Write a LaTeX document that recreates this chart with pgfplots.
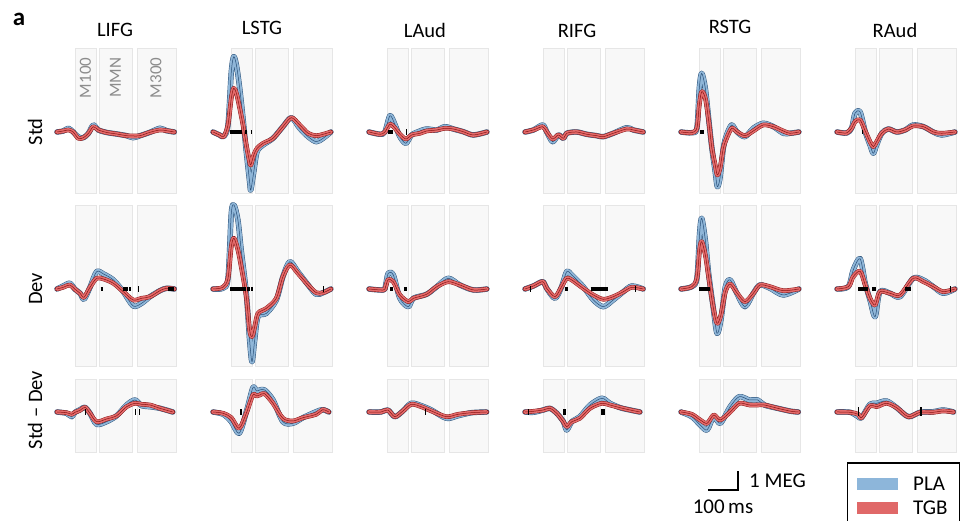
\documentclass[border=0pt]{standalone}
\usepackage{pgfplots}
\pgfplotsset{compat=1.18}
\usepackage{fontspec}
\setmainfont{Carlito}
\definecolor{blueL}{RGB}{143,182,216}
\definecolor{blueD}{RGB}{40,78,118}
\definecolor{redL}{RGB}{228,108,108}
\definecolor{redD}{RGB}{135,20,20}
\definecolor{boxF}{RGB}{248,248,248}
\definecolor{boxE}{RGB}{230,230,230}
\definecolor{labgray}{RGB}{140,140,140}
\definecolor{legB}{RGB}{141,182,218}
\definecolor{legR}{RGB}{224,104,104}
\pgfplotsset{
  panel/.style={x=0.3pt,y=1pt,xmin=-100,xmax=300,hide axis,clip=false,anchor=south west},
  rowA/.style={ymin=-61,ymax=84},
  rowB/.style={ymin=-77,ymax=84},
  rowC/.style={ymin=-40,ymax=33},
  tr/.style={smooth,tension=0.5,line join=round,line cap=round,forget plot,mark=none},
}
\newcommand{\pbox}[4]{\addplot[fill=boxF,draw=boxE,line width=0.9pt,forget plot,mark=none] coordinates {(#1,#3) (#2,#3) (#2,#4) (#1,#4)} -- cycle;}
\newcommand{\boxes}[2]{\pbox{-37}{30}{#1}{#2}\pbox{43}{150}{#1}{#2}\pbox{167}{297}{#1}{#2}}
\newcommand{\PLA}[1]{%
  \addplot[tr,blueD,line width=5.4pt] coordinates {#1};
  \addplot[tr,blueL,line width=4.5pt] coordinates {#1};
  \addplot[tr,blueD,line width=0.5pt] coordinates {#1};}
\newcommand{\TGB}[1]{%
  \addplot[tr,redD,line width=4.6pt] coordinates {#1};
  \addplot[tr,redL,line width=3.7pt] coordinates {#1};
  \addplot[tr,redD,line width=0.5pt] coordinates {#1};}
\newcommand{\sig}[2]{\addplot[black,line width=3.5pt,forget plot,mark=none] coordinates {(#1,0) (#2,0)};}
\newcommand{\stick}[1]{\addplot[black,line width=1.2pt,forget plot,mark=none] coordinates {(#1,-3) (#1,3)};}
\begin{document}
\begin{tikzpicture}
\useasboundingbox (0pt,0pt) rectangle (966pt,521pt);
% ================= Row 1: Std =================
\begin{axis}[panel,rowA,at={(57pt,328pt)}]
\boxes{-61}{84}
\PLA{(-100,0) (-79,1) (-62,3.7) (-46,0) (-29,-5) (-12,-5.7) (5,-1.3) (21,7) (38,2) (66,-0.5) (99,-2) (132,-3.7) (154,-5.7) (177,-3.7) (210,-0.3) (243,3.7) (265,1.3) (291,0)}
\TGB{(-100,0) (-79,1) (-62,2) (-46,0) (-29,-6.3) (-12,-5.7) (5,-1.3) (21,5.3) (38,2) (66,-0.5) (99,-2) (132,-3.7) (154,-4) (177,-3.7) (210,-0.3) (243,2) (265,1.3) (291,0)}
\end{axis}
\begin{axis}[panel,rowA,at={(213pt,328pt)}]
\boxes{-61}{84}
\PLA{(-100,0) (-78,-3) (-64,-4.5) (-50,7) (-39,60) (-31,75.3) (-22,67) (-11,43.7) (0,13.7) (11,-19.7) (22,-49.7) (26,-58) (36,-39.7) (47,-19.7) (67,-13) (100,-6.3) (133,5.3) (161,14.3) (189,3.7) (217,-4.7) (244,-9.7) (267,-6.3) (293,0)}
\TGB{(-100,0) (-78,-3) (-64,-4.5) (-50,7) (-39,33.7) (-31,43.7) (-22,38.7) (-11,23.7) (0,7) (11,-13) (22,-29.7) (26,-33) (36,-23) (47,-16.3) (67,-11.3) (100,-6.3) (133,5.3) (161,14.3) (189,7) (217,-1.3) (244,-3.7) (267,-2.3) (293,0)}
\sig{-42}{-4}\sig{8}{12}\sig{25}{29}
\end{axis}
\begin{axis}[panel,rowA,at={(369pt,328pt)}]
\boxes{-61}{84}
\PLA{(-100,0) (-63,-2.3) (-47,0) (-30,16.3) (-13,7) (3,-4.7) (23,-11.3) (42,-3) (70,1) (92,3) (126,2) (153,5.3) (181,3) (214,0.3) (248,-3) (293,0)}
\TGB{(-100,0) (-63,-2.3) (-47,0) (-30,7.7) (-13,3.7) (3,-2.3) (23,-7) (42,-3) (70,-1.3) (92,1) (126,2) (153,3.7) (181,3) (214,0.3) (248,-3) (293,0)}
\sig{-36}{-19}\stick{26}
\end{axis}
\begin{axis}[panel,rowA,at={(525pt,328pt)}]
\boxes{-61}{84}
\PLA{(-100,0) (-72,2) (-41,7) (-28,0.3) (-8,-9.7) (11,-3) (28,-6.3) (39,-1.3) (72,0) (106,-2.3) (139,-3.7) (161,-4.7) (194,-1.3) (239,4.3) (261,2) (294,0)}
\TGB{(-100,0) (-72,2) (-41,5.3) (-28,0.3) (-8,-7) (11,-3) (28,-6.3) (39,-1.3) (72,0) (106,-2.3) (139,-3.7) (161,-4.7) (194,-1.3) (239,3) (261,2) (294,0)}
\end{axis}
\begin{axis}[panel,rowA,at={(681pt,328pt)}]
\boxes{-61}{84}
\PLA{(-100,0) (-64,-0.7) (-47,4) (-39,43.7) (-31,58.7) (-19,43.7) (-8,13.7) (3,-16.3) (14,-39.7) (21,-54.7) (30,-46) (41,-16.3) (52,-3) (69,7) (86,0.3) (113,-4.7) (141,3.7) (174,8.7) (208,5.3) (241,-1.3) (263,-1.3) (293,0)}
\TGB{(-100,0) (-64,-0.7) (-47,4) (-39,27) (-31,40.3) (-19,33.7) (-8,12) (3,-16.3) (14,-33) (21,-43) (30,-36.3) (41,-16.3) (52,-6.3) (69,3.7) (86,0.3) (113,-3.7) (141,1) (174,7) (208,5.3) (241,1) (263,-1.3) (293,0)}
\sig{-36}{-31}\sig{-29}{-24}
\end{axis}
\begin{axis}[panel,rowA,at={(837pt,328pt)}]
\boxes{-61}{84}
\PLA{(-100,0) (-68,-1) (-51,4) (-40,18.7) (-23,20) (-6,0.3) (10,-13) (21,-21.3) (32,-13) (49,-1.3) (71,3) (99,0) (127,2) (154,7) (188,5.3) (221,0) (249,-3) (293,0)}
\TGB{(-100,0) (-68,-1) (-51,4) (-40,10.3) (-23,12) (-6,1) (10,-9.7) (21,-14.7) (32,-9.7) (49,-1.3) (71,3) (99,0) (127,2) (154,6) (188,5.3) (221,0) (249,-1.3) (293,0)}
\sig{-18}{-14}
\end{axis}
% ================= Row 2: Dev =================
\begin{axis}[panel,rowB,at={(57pt,155pt)}]
\boxes{-77}{84}
\PLA{(-100,0) (-79,3) (-57,5.7) (-40,-0.3) (-23,-4.3) (-10,-10.3) (10,1.7) (32,17.3) (55,15) (88,9) (121,-2.7) (154,-17) (182,-14.3) (210,-7.7) (243,-1.7) (265,0.7) (291,0)}
\TGB{(-100,0) (-79,1.7) (-57,4) (-40,-0.3) (-23,-4.3) (-10,-8.3) (10,1.7) (32,10.7) (55,10) (88,5.7) (121,-2.7) (154,-11) (182,-9.3) (210,-7.7) (243,-1.7) (265,0.7) (291,0)}
\sig{45}{54}\sig{121}{136}\sig{141}{145}\stick{171}\sig{271}{290}
\end{axis}
\begin{axis}[panel,rowB,at={(213pt,155pt)}]
\boxes{-77}{84}
\PLA{(-100,0) (-67,0.7) (-50,10.7) (-39,75.7) (-30,84) (-17,69) (-6,39) (11,-4.3) (22,-51) (30,-72.7) (39,-51) (50,-27.7) (78,-24.3) (111,-11) (133,12.3) (156,27.3) (183,17.3) (217,4) (244,-5.3) (267,-3.7) (293,0)}
\TGB{(-100,0) (-67,1.7) (-50,10.7) (-39,42.3) (-30,50.7) (-17,39) (-6,22.3) (11,-7.7) (22,-41) (30,-47.7) (39,-37.7) (50,-24.3) (78,-19.3) (111,-9.3) (133,12.3) (156,24) (183,15.7) (217,4) (244,-3.7) (267,-3.7) (293,0)}
\sig{-44}{10}\sig{14}{22}\sig{26}{34}\stick{269}
\end{axis}
\begin{axis}[panel,rowB,at={(369pt,155pt)}]
\boxes{-77}{84}
\PLA{(-100,0) (-52,-1) (-45,3) (-36,15.7) (-19,14) (3,-9.3) (31,-17.7) (48,-9.3) (92,-5.3) (126,2.3) (164,10.7) (203,4) (248,-1) (293,0)}
\TGB{(-100,0) (-52,-1) (-45,2) (-36,9.3) (-19,7.3) (3,-6) (31,-12.7) (48,-9.3) (92,-5.3) (126,2.3) (164,7.3) (203,4) (248,-1) (293,0)}
\sig{-30}{-19}\sig{16}{27}
\end{axis}
\begin{axis}[panel,rowB,at={(525pt,155pt)}]
\boxes{-77}{84}
\PLA{(-100,0) (-72,3) (-41,7.3) (-28,0.7) (0,-9.3) (22,2.3) (39,17.3) (56,14) (94,2.3) (128,-11) (161,-17.7) (194,-11) (228,-2.7) (256,3) (294,0)}
\TGB{(-100,0) (-72,3) (-41,7.3) (-28,0.7) (0,-7.7) (22,2.3) (39,10.7) (56,9) (94,0.7) (128,-6) (161,-10.3) (194,-7.7) (228,-2.7) (256,1.7) (294,0)}
\stick{-83}\sig{33}{44}\sig{119}{178}\stick{267}
\end{axis}
\begin{axis}[panel,rowB,at={(681pt,155pt)}]
\boxes{-77}{84}
\PLA{(-100,0) (-64,2.3) (-47,10.7) (-38,55.7) (-31,70.7) (-19,49) (-8,15.7) (7,-17.7) (20,-44.3) (33,-31) (48,2.3) (64,9) (86,-4.3) (113,-17.7) (141,-4.3) (163,4) (197,0.7) (241,-6) (293,0)}
\TGB{(-100,0) (-64,2.3) (-47,10.7) (-38,39) (-31,47.3) (-19,34) (-8,12.3) (7,-17.7) (20,-34.3) (33,-26) (48,-2.7) (64,5) (86,-3.7) (113,-12.7) (141,-4.3) (163,4) (197,2.3) (241,-1.7) (293,0)}
\sig{-40}{-3}
\end{axis}
\begin{axis}[panel,rowB,at={(837pt,155pt)}]
\boxes{-77}{84}
\PLA{(-100,0) (-62,2.3) (-46,19) (-23,30.3) (-6,5.7) (10,-11) (27,-27.7) (43,-2.7) (77,-4.3) (110,-7.7) (154,10.7) (188,9) (221,2.3) (254,-4.3) (293,0)}
\TGB{(-100,0) (-62,2.3) (-46,12.3) (-23,17.7) (-6,4) (10,-9.3) (27,-16) (43,-2.7) (77,-4.3) (110,-6) (154,10.7) (188,7.3) (221,2.3) (254,-2.7) (293,0)}
\sig{-29}{4}\sig{16}{30}\sig{127}{146}\stick{277}
\end{axis}
% ================= Row 3: Std - Dev =================
\begin{axis}[panel,rowC,at={(57pt,69pt)}]
\boxes{-40}{33}
\PLA{(-100,0) (-68,-1.3) (-51,-4.7) (-40,-0.3) (-23,2.3) (-7,4.7) (10,-1.3) (32,-12.3) (65,-9.7) (99,-3.7) (132,7) (160,12) (182,6.3) (210,5.3) (243,3.7) (286,0)}
\TGB{(-100,0) (-68,-0.7) (-51,-2.3) (-40,-0.3) (-23,1.7) (-7,4.7) (10,-1.3) (32,-9.7) (65,-7) (99,-3.7) (132,5.3) (160,8.7) (182,7.7) (210,7) (243,3.7) (286,0)}
\stick{-5}\stick{162}\stick{175}
\end{axis}
\begin{axis}[panel,rowC,at={(213pt,69pt)}]
\boxes{-40}{33}
\PLA{(-100,0) (-66,-2.3) (-39,-9.7) (-13,-21.3) (11,0) (33,24.3) (45,21) (56,22) (72,22) (100,12) (133,-9.7) (166,-11.3) (200,-5.7) (244,0.3) (266,2.3) (286,0)}
\TGB{(-100,0) (-66,-1.3) (-39,-5.7) (-13,-16.3) (11,-1.3) (33,17) (45,16) (56,17) (72,18.3) (100,8.7) (133,-6.3) (166,-9) (200,-5.7) (244,-2.3) (266,2.3) (286,0)}
\stick{-7}
\end{axis}
\begin{axis}[panel,rowC,at={(369pt,69pt)}]
\boxes{-40}{33}
\PLA{(-100,0) (-60,0) (-37,2) (-14,-4.7) (13,1) (41,8.7) (74,6.3) (108,2) (158,-6.3) (197,-3.7) (242,-0.7) (292,0)}
\TGB{(-100,0) (-60,0) (-37,2) (-14,-4.7) (13,1) (41,7.7) (74,5.3) (108,1) (158,-4.7) (197,-2.3) (242,-0.7) (292,0)}
\stick{88}
\end{axis}
\begin{axis}[panel,rowC,at={(525pt,69pt)}]
\boxes{-40}{33}
\PLA{(-100,0) (-72,-0.3) (-39,2) (-17,3.7) (6,-1.3) (28,-9.7) (39,-18) (56,-9.7) (83,-4.7) (117,7) (156,13.7) (183,8.7) (217,4.3) (250,2) (283,0)}
\TGB{(-100,0) (-72,0.7) (-39,2) (-17,3.7) (6,-1.3) (28,-9.7) (39,-14.7) (56,-9.7) (83,-6.3) (117,3.7) (156,8.7) (183,7) (217,4.3) (250,2) (283,0)}
\stick{-89}\stick{30}\stick{34}\stick{155}\stick{160}\stick{165}
\end{axis}
\begin{axis}[panel,rowC,at={(681pt,69pt)}]
\boxes{-40}{33}
\PLA{(-100,0) (-64,-4.7) (-36,-13) (-13,-18) (9,-4.7) (31,-11.3) (64,5.3) (94,15.3) (128,12) (156,12) (178,7) (222,3.7) (267,0.7) (291,0)}
\TGB{(-100,0) (-64,-2.3) (-36,-8) (-13,-11.3) (9,-3) (31,-8) (64,0) (94,8.7) (128,7) (156,7) (178,7) (222,3.7) (267,0.7) (291,0)}
\end{axis}
\begin{axis}[panel,rowC,at={(837pt,69pt)}]
\boxes{-40}{33}
\PLA{(-100,0) (-56,-0.3) (-29,-4.7) (-18,-5.7) (10,7.7) (32,8.7) (65,11) (99,4.3) (138,-4.7) (177,-0.3) (221,0.3) (254,2) (288,0)}
\TGB{(-100,0) (-56,-0.3) (-29,-2.3) (-18,-5.7) (10,6.3) (32,5.3) (65,8.7) (99,4.3) (138,-4.7) (177,-0.3) (221,-0.3) (254,1) (288,0)}
\addplot[black,line width=1.5pt,forget plot,mark=none] coordinates {(-29,-4) (-29,5)};
\addplot[black,line width=1.5pt,forget plot,mark=none] coordinates {(180,-4) (180,5)};
\end{axis}
% ================= scale bar =================
\begin{axis}[x=0.3pt,y=1pt,xmin=0,xmax=100,ymin=0,ymax=19,hide axis,clip=false,anchor=south west,at={(708pt,31pt)}]
\addplot[black,line width=2.5pt,mark=none,line join=miter] coordinates {(0,0) (100,0) (100,19)};
\end{axis}
% ================= text =================
\node[anchor=base,font=\fontsize{25pt}{30pt}\selectfont\bfseries,inner sep=0] at (19pt,495pt) {a};
\foreach \xx/\yy/\tt in {115/484/LIFG,262/486/LSTG,425/483/LAud,577/483/RIFG,730/487/RSTG,895/483/RAud}
  \node[anchor=base,font=\fontsize{20.5pt}{24pt}\selectfont,inner sep=0] at (\xx pt,\yy pt) {\tt};
\node[rotate=90,anchor=base,font=\fontsize{20.5pt}{24pt}\selectfont,inner sep=0] at (42pt,389pt) {Std};
\node[rotate=90,anchor=base,font=\fontsize{20.5pt}{24pt}\selectfont,inner sep=0] at (42pt,232pt) {Dev};
\node[rotate=90,anchor=base,font=\fontsize{20.5pt}{24pt}\selectfont,inner sep=0] at (42pt,111pt) {Std – Dev};
\foreach \xx/\tt in {85.5/M100,115.5/MMN,156/M300}
  \node[rotate=90,anchor=east,text=labgray,font=\fontsize{17pt}{20pt}\selectfont,inner sep=0] at (\xx pt,463.5pt) {\tt};
\node[anchor=west,font=\fontsize{21pt}{25pt}\selectfont,inner sep=0] at (749pt,40pt) {1 MEG};
\node[anchor=center,font=\fontsize{21pt}{25pt}\selectfont,inner sep=0] at (723pt,14pt) {100\,ms};
% ================= legend =================
\draw[black,line width=1.3pt] (847.5pt,58pt) rectangle (959.5pt,-6pt);
\fill[legB] (857pt,31pt) rectangle (898pt,43pt);
\fill[legR] (857pt,7pt) rectangle (898pt,19pt);
\node[anchor=west,font=\fontsize{21pt}{25pt}\selectfont,inner sep=0] at (913pt,37pt) {PLA};
\node[anchor=west,font=\fontsize{21pt}{25pt}\selectfont,inner sep=0] at (913pt,13pt) {TGB};
\end{tikzpicture}
\end{document}
